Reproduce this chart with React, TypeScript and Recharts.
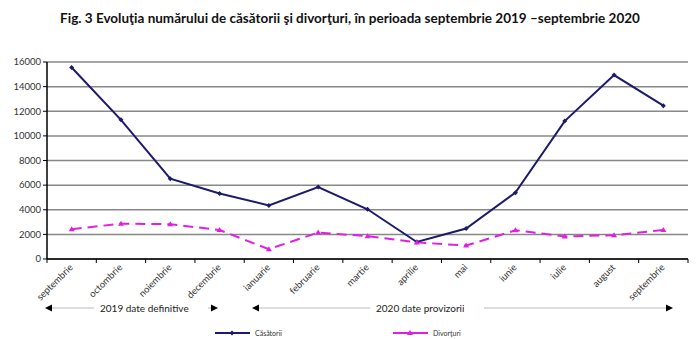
import { LineChart, Line, XAxis, YAxis, CartesianGrid } from "recharts";

const months = [
  "septembrie", "octombrie", "noiembrie", "decembrie", "ianuarie", "februarie",
  "martie", "aprilie", "mai", "iunie", "iulie", "august", "septembrie",
];
const casatorii = [15550, 11300, 6520, 5320, 4350, 5850, 4040, 1380, 2470, 5390, 11200, 14940, 12450];
const divorturi = [2420, 2870, 2830, 2350, 800, 2150, 1850, 1350, 1090, 2330, 1830, 1930, 2360];
const yTicks = [0, 2000, 4000, 6000, 8000, 10000, 12000, 14000, 16000];

const title =
  "Fig. 3 Evoluţia numărului de căsătorii şi divorţuri, în perioada septembrie 2019 –septembrie 2020";

const data = months.map((m, i) => ({ m, c: casatorii[i], d: divorturi[i], i }));

const font = "Lato, 'Open Sans', sans-serif";

function MonthTick(props: any) {
  const { x, y, payload, index } = props;
  const off = payload.offset || 0;
  return (
    <g>
      <line x1={x - off} y1={y} x2={x - off} y2={y + 4} stroke="#000" />
      {index === months.length - 1 && (
        <line x1={x + off} y1={y} x2={x + off} y2={y + 4} stroke="#000" />
      )}
      <text
        x={x + 2}
        y={y + 9}
        textAnchor="end"
        fontSize={9.5}
        fill="#333"
        fontFamily={font}
        transform={`rotate(-45 ${x + 2} ${y + 9})`}
      >
        {months[payload.value]}
      </text>
    </g>
  );
}

function Diamond(props: any) {
  const { cx, cy } = props;
  return <path d={`M${cx},${cy - 2.5}L${cx + 2.5},${cy}L${cx},${cy + 2.5}L${cx - 2.5},${cy}Z`} fill="#1c1a6b" />;
}

function Tri(props: any) {
  const { cx, cy } = props;
  return <path d={`M${cx},${cy - 3}L${cx + 3},${cy + 2}L${cx - 3},${cy + 2}Z`} fill="#e020e0" />;
}

function Arrow({ x1, x2, label, lx }: { x1: number; x2: number; label: string; lx: number }) {
  return (
    <g>
      <line x1={x1 + 6} y1={308} x2={x2 - 6} y2={308} stroke="#bbb" strokeWidth={1} />
      <path d={`M${x1},308L${x1 + 7},304.5L${x1 + 7},311.5Z`} fill="#000" />
      <path d={`M${x2},308L${x2 - 7},304.5L${x2 - 7},311.5Z`} fill="#000" />
      <rect x={lx - 6} y={300} width={label.length * 5.1 + 12} height={14} fill="#fff" />
      <text x={lx} y={312} fontSize={10} fill="#222" fontFamily={font}>{label}</text>
    </g>
  );
}

export default function App() {
  return (
    <div style={{ position: "absolute", left: 0, top: 0, width: 700, height: 339, background: "#fff", overflow: "hidden" }}>
      <div
        style={{
          position: "absolute", left: 0, top: 10, width: 700, textAlign: "center",
          fontFamily: font, fontWeight: 700, fontSize: 13.5, color: "#111",
        }}
      >
        {title}
      </div>
      <LineChart width={700} height={339} data={data} margin={{ top: 62, right: 12, bottom: 0, left: 0 }}>
        <CartesianGrid vertical={false} stroke="#888" strokeWidth={1.5} />
        <XAxis
          dataKey="i"
          scale="band"
          type="category"
          height={80}
          axisLine={{ stroke: "#000", strokeWidth: 1.5 }}
          tickLine={false}
          tick={<MonthTick />}
          interval={0}
          tickMargin={0}
          tickSize={0}
        />
        <YAxis
          width={47}
          domain={[0, 16000]}
          ticks={yTicks}
          interval={0}
          axisLine={{ stroke: "#000", strokeWidth: 1.5 }}
          tickLine={{ stroke: "#000" }}
          tickSize={4}
          tick={{ fontSize: 9.5, fill: "#333", fontFamily: font }}
        />
        <Line
          dataKey="c"
          stroke="#1c1a6b"
          strokeWidth={2}
          dot={<Diamond />}
          activeDot={false}
          isAnimationActive={false}
        />
        <Line
          dataKey="d"
          stroke="#e020e0"
          strokeWidth={2}
          strokeDasharray="10 6"
          dot={<Tri />}
          activeDot={false}
          isAnimationActive={false}
        />
      </LineChart>
      <svg width={700} height={339} style={{ position: "absolute", left: 0, top: 0, pointerEvents: "none" }}>
        <Arrow x1={45} x2={218} label="2019 date definitive" lx={100} />
        <Arrow x1={252} x2={673} label="2020 date provizorii" lx={376} />
        <line x1={215} y1={333} x2={250} y2={333} stroke="#1c1a6b" strokeWidth={2} />
        <Diamond cx={232} cy={333} />
        <text x={255} y={335.5} fontSize={7} fill="#333" fontFamily={font}>Căsătorii</text>
        <line x1={393} y1={333} x2={428} y2={333} stroke="#e020e0" strokeWidth={2} />
        <Tri cx={410} cy={333} />
        <text x={433} y={335.5} fontSize={7} fill="#333" fontFamily={font}>Divorţuri</text>
      </svg>
    </div>
  );
}
